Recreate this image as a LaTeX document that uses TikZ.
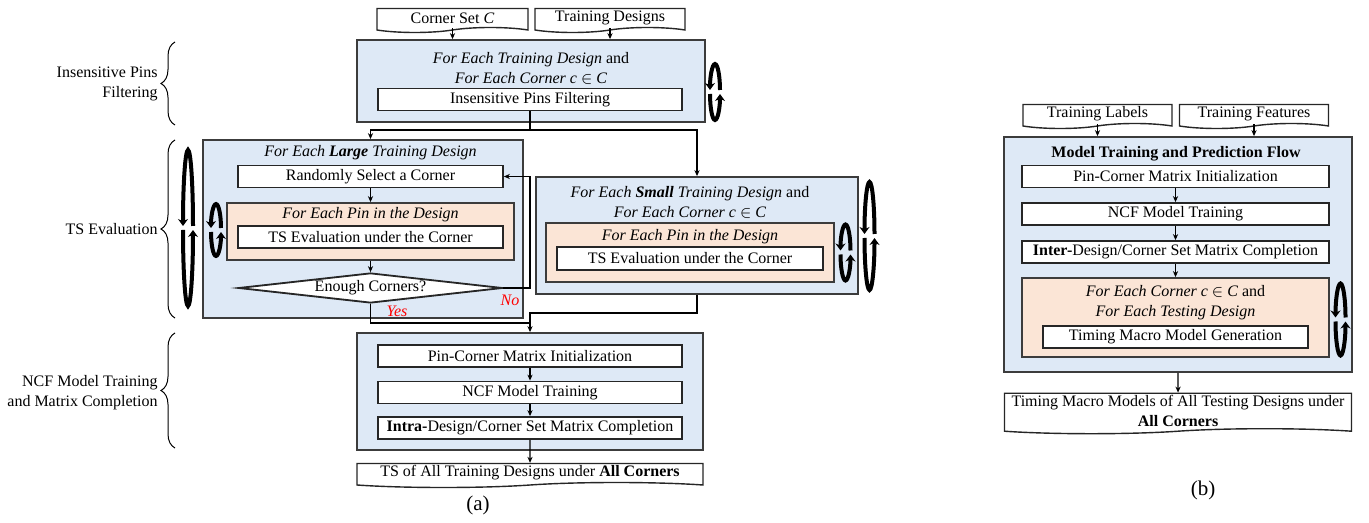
\documentclass[tikz,border=0pt]{standalone}
\usepackage{fontspec}
\setmainfont{Liberation Serif}
\usetikzlibrary{shapes.geometric, shapes.symbols, arrows.meta, calc, positioning, decorations.pathreplacing}

\definecolor{loopblue}{RGB}{222,233,246}
\definecolor{looporange}{RGB}{251,229,214}
\definecolor{edgegray}{RGB}{60,60,60}

% loop icon: x centre, y middle, half height
\newcommand{\cycleicon}[3]{%
	\draw[cycleline] ($(#1,#2)+(2.5pt,0)$) arc[start angle=0, end angle=180, x radius=2.5pt, y radius=#3];
	\draw[cycleline] ($(#1,#2)+(-2.5pt,0)$) arc[start angle=180, end angle=360, x radius=2.5pt, y radius=#3];
}

\begin{document}
\begin{tikzpicture}[x=0.5pt, y=-0.5pt, >={Stealth[length=3pt,width=2.6pt]}, font=\fontsize{8}{10}\selectfont]
	\tikzstyle{outerbox} = [draw=edgegray, line width=0.9pt, fill=loopblue, inner sep=0pt]
	\tikzstyle{pinbox} = [draw=edgegray, line width=0.9pt, fill=looporange, inner sep=0pt]
	\tikzstyle{stepbox} = [draw=black!85, line width=0.9pt, fill=white, minimum height=11pt, inner sep=0pt]
	\tikzstyle{docbox} = [tape, draw=black!85, line width=0.7pt, fill=white, tape bend top=none, tape bend height=2.5pt, minimum height=12pt, inner sep=1pt, align=center]
	\tikzstyle{decision} = [diamond, aspect=8.8, draw=black!85, line width=0.9pt, fill=white, minimum width=132pt, minimum height=15pt, inner sep=0pt]
	\tikzstyle{title} = [align=center, inner sep=0pt]
	\tikzstyle{answer} = [red, inner sep=0pt, font=\fontsize{8}{10}\selectfont\itshape]
	\tikzstyle{flow} = [->, line width=0.6pt]
	\tikzstyle{cycleline} = [line width=2pt, -{Stealth[length=3.5pt,width=5pt]}, shorten >=1pt, shorten <=1pt]
	\tikzstyle{side} = [decorate, decoration={brace, amplitude=7pt}, line width=0.5pt]

	\useasboundingbox (0,0) rectangle (1369,523);

	% (a) inputs and filtering
	\node[docbox, minimum width=75.5pt] (cornerset) at (452.5,18) {Corner Set \textit{C}};
	\node[docbox, minimum width=75pt] (traindes) at (610,18) {Training Designs};
	\node[outerbox, minimum width=174pt, minimum height=41pt] (filter) at (531,81) {};
	\node[title] (filtertitle) at (531,68) {\textit{For Each Training Design} and\\ \textit{For Each Corner c} $\in$ \textit{C}};
	\node[stepbox, minimum width=152pt] (filterstep) at (530,99.5) {Insensitive Pins Filtering};
	\coordinate (split) at (530,130);

	% (a) large designs
	\node[outerbox, minimum width=160pt, minimum height=89pt] (large) at (363,229) {};
	\node[title] (largetitle) at (370.5,153) {\textit{For Each \textbf{Large} Training Design}};
	\node[stepbox, minimum width=132.5pt] (randsel) at (370.5,176.5) {Randomly Select a Corner};
	\node[pinbox, minimum width=143.5pt, minimum height=28.5pt] (largepin) at (370.5,231.5) {};
	\node[title] (largepintitle) at (370.5,215) {\textit{For Each Pin in the Design}};
	\node[stepbox, minimum width=132.5pt] (largeeval) at (370.5,237) {TS Evaluation under the Corner};
	\node[decision] (enough) at (370.5,288) {Enough Corners?};
	\node[answer] (no) at (510,300) {No};
	\node[answer] (yes) at (397,311) {Yes};
	\coordinate (noturn) at (530,230);
	\coordinate (yesturn) at (530,323);

	% (a) small designs
	\node[outerbox, minimum width=161pt, minimum height=58.5pt] (small) at (697,235.5) {};
	\node[title] (smalltitle) at (690,202) {\textit{For Each \textbf{Small} Training Design} and\\ \textit{For Each Corner c} $\in$ \textit{C}};
	\node[pinbox, minimum width=144pt, minimum height=29.5pt] (smallpin) at (690,252.5) {};
	\node[title] (smallpintitle) at (690,237) {\textit{For Each Pin in the Design}};
	\node[stepbox, minimum width=133pt, minimum height=11.5pt] (smalleval) at (690,258.5) {TS Evaluation under the Corner};
	\coordinate (smallturn) at (697,313);

	% (a) matrix completion
	\node[outerbox, minimum width=173pt, minimum height=58.5pt] (ncf) at (530,391.5) {};
	\node[stepbox, minimum width=152pt] (pcm) at (530,356) {Pin-Corner Matrix Initialization};
	\node[stepbox, minimum width=152pt] (ncftrain) at (530,392.5) {NCF Model Training};
	\node[stepbox, minimum width=152pt] (intra) at (530,428) {\textbf{Intra-}Design/Corner Set Matrix Completion};
	\node[docbox, minimum width=173pt] (tsall) at (530,473) {TS of All Training Designs under \textbf{All Corners}};
	\node[font=\fontsize{10.5}{12}\selectfont] (capa) at (478,505) {(a)};

	\path[flow]
		(cornerset.south) edge (cornerset.south |- filter.north)
		(traindes.south) edge (traindes.south |- filter.north)
		(randsel) edge (largepin)
		(largepin) edge (enough)
		(pcm) edge (ncftrain)
		(ncftrain) edge (intra)
		(intra) edge (tsall)
	;
	\draw[flow] (filterstep.south) -- (split) -| (randsel.north |- large.north);
	\draw[flow] (split) -| (small.north);
	\draw[flow] (enough.east) -| (noturn) |- (randsel.east);
	\draw[flow] (enough.south) |- (yesturn) -- (ncf.north);
	\draw[line width=0.6pt] (small.south) -- (smallturn) -| (yesturn);

	% (a) side labels
	\draw[side] (175,125) -- (175,42);
	\draw[side] (175,318) -- (175,140);
	\draw[side] (175,448) -- (175,333);
	\node[anchor=east, align=right, inner sep=0pt] (lblfilter) at (158,84) {Insensitive Pins\\ Filtering};
	\node[anchor=east, align=right, inner sep=0pt] (lblts) at (158,229) {TS Evaluation};
	\node[anchor=east, align=right, inner sep=0pt] (lblncf) at (158,393) {NCF Model Training\\ and Matrix Completion};

	% (a) loops
	\cycleicon{715}{92}{14pt}
	\cycleicon{188}{228}{39pt}
	\cycleicon{216}{230}{13pt}
	\cycleicon{845.5}{252.5}{14pt}
	\cycleicon{869.5}{236}{27pt}

	% (b) prediction flow
	\node[docbox, minimum width=74.5pt] (trlabels) at (1097.5,114) {Training Labels};
	\node[docbox, minimum width=74.5pt] (trfeat) at (1254,114) {Training Features};
	\node[outerbox, minimum width=174pt, minimum height=117.5pt] (flowbox) at (1178,254.5) {};
	\node[title] (flowtitle) at (1176,154) {\textbf{Model Training and Prediction Flow}};
	\node[stepbox, minimum width=153.5pt] (pcmb) at (1175.5,176.5) {Pin-Corner Matrix Initialization};
	\node[stepbox, minimum width=153.5pt] (ncfb) at (1175.5,214) {NCF Model Training};
	\node[stepbox, minimum width=153.5pt] (interb) at (1175.5,252) {\textbf{Inter-}Design/Corner Set Matrix Completion};
	\node[pinbox, minimum width=153.5pt, minimum height=39.5pt] (testpin) at (1175.5,317.5) {};
	\node[title] (testtitle) at (1175.5,303) {\textit{For Each Corner c} $\in$ \textit{C} and\\ \textit{For Each Testing Design}};
	\node[stepbox, minimum width=132.5pt] (tmm) at (1175.5,337) {Timing Macro Model Generation};
	\node[docbox, minimum width=173.5pt] (tmmall) at (1178,411) {Timing Macro Models of All Testing Designs under\\ \textbf{All Corners}};
	\node[font=\fontsize{10.5}{12}\selectfont] (capb) at (1203,490) {(b)};

	\path[flow]
		(trlabels.south) edge (trlabels.south |- flowbox.north)
		(trfeat.south) edge (trfeat.south |- flowbox.north)
		(pcmb) edge (ncfb)
		(ncfb) edge (interb)
		(interb) edge (testpin)
		(flowbox) edge (tmmall)
	;
	\cycleicon{1340.5}{319.5}{18pt}
\end{tikzpicture}
\end{document}
